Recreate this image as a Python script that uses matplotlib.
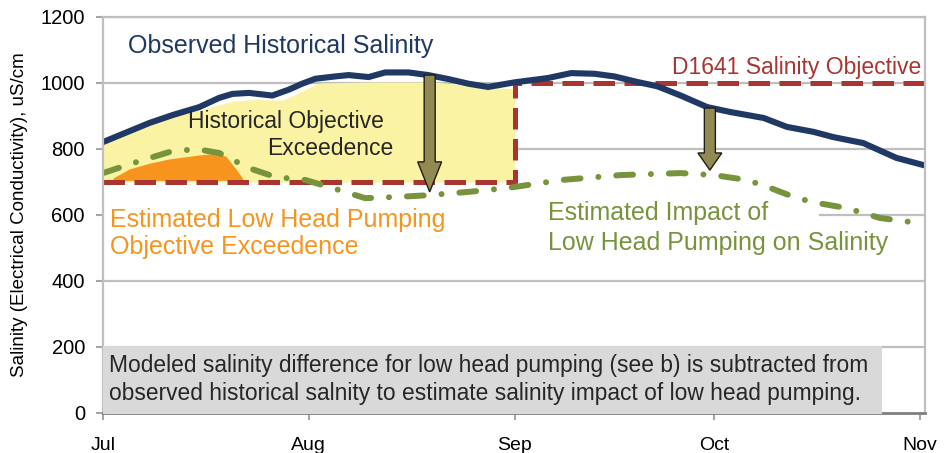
import matplotlib
matplotlib.use("Agg")
import matplotlib.pyplot as plt
from matplotlib.patches import Rectangle

plt.rcParams['font.family'] = ['Liberation Sans', 'DejaVu Sans']

# ---- data (x = days since Jul 1) ----
month_ticks = [0, 31, 62, 92, 123]
month_labels = ['Jul', 'Aug', 'Sep', 'Oct', 'Nov']
y_ticks = [0, 200, 400, 600, 800, 1000, 1200]

obs_day = [0, 3.5, 7, 10.5, 14.5, 17.5, 19.5, 22, 25.5, 28, 30, 32, 35, 37, 40, 42.5, 46, 49,
           52, 55, 58, 62, 67, 70.5, 74, 77, 80.5, 83.5, 87, 91, 94.5, 99.5, 103, 107, 110,
           114.5, 119.5, 123.8]
obs_val = [821, 850, 879, 903, 927, 955, 967, 970, 962, 980, 998, 1013, 1020, 1024, 1018, 1032,
           1032, 1024, 1012, 998, 988, 1002, 1015, 1030, 1028, 1020, 1003, 990, 962, 927, 912,
           894, 867, 852, 836, 818, 773, 750]

objective_day = [0, 62, 62, 123.8]
objective_val = [700, 700, 1000, 1000]

impact_day = [0, 4.5, 10, 14, 17.5, 22, 26, 30.5, 34.5, 39.5, 44.5, 49, 55, 61, 69, 78, 87, 92,
              97, 100.5, 104.5, 108, 112, 117, 123.8]
impact_val = [727, 757, 791, 800, 788, 742, 715, 706, 682, 651, 655, 660, 670, 682, 706, 721,
              727, 721, 706, 682, 651, 635, 621, 591, 573]

hist_exc_day = [0, 5, 10, 15, 19.5, 23, 27, 30, 32.5, 40, 50, 56, 60, 62]
hist_exc_top = [815, 855, 895, 920, 945, 950, 948, 975, 1000, 1003, 1003, 990, 985, 982]
hist_exc_bottom = 700

lhp_exc_day = [1.5, 4, 7, 10, 14.5, 17, 18.5, 20, 21]
lhp_exc_top = [712, 740, 757, 770, 782, 787, 778, 740, 712]
lhp_exc_bottom = 705

arrow1 = (49.2, 1024, 670)   # day, from, to
arrow2 = (91.4, 924, 736)

# ---- colours ----
NAVY = '#1F3864'
RED = '#A93530'
GREEN = '#77933C'
ORANGE = '#F7941D'
YELLOW = '#FAF3A3'
GRID = '#BFBFBF'
ARROW = '#938953'

fig = plt.figure(figsize=(9.45, 4.53), dpi=100)
ax = fig.add_axes([103/945, 40/453, 822/945, 396/453])
ax.set_xlim(0, 123.8)
ax.set_ylim(0, 1200)

# grid
for yv in y_ticks[1:]:
    if yv == 600:
        ax.axhline(yv, xmin=0.872, color=GRID, lw=1.6, zorder=0.5)
    else:
        ax.axhline(yv, color=GRID, lw=1.6, zorder=0.5)

# fills
ax.fill_between(hist_exc_day, hist_exc_bottom, hist_exc_top, color=YELLOW, lw=0, zorder=1)
ax.fill_between(lhp_exc_day, lhp_exc_bottom, lhp_exc_top, color=ORANGE, lw=0, zorder=1.2)

# lines
ax.plot(objective_day, objective_val, color=RED, lw=3.6, linestyle=(0, (4.3, 1.9)),
        dash_capstyle='butt', zorder=2)
ax.plot(impact_day, impact_val, color=GREEN, lw=4.3, linestyle=(0, (2.8, 3.0, 0.01, 3.0)),
        dash_capstyle='round', zorder=2.2)
ax.plot(obs_day, obs_val, color=NAVY, lw=4.4, solid_capstyle='butt', zorder=2.5)

# arrows
for d, y0, y1 in (arrow1, arrow2):
    hl = 91 if d < 60 else 52
    ax.arrow(d, y0, 0, y1 - y0, width=1.66, head_width=3.6, head_length=hl,
             length_includes_head=True, fc=ARROW, ec='#1E1E14', lw=1.0, zorder=4)

# grey note box
ax.add_patch(Rectangle((0, -4), 117.3, 207, facecolor='#D9D9D9', edgecolor='none',
                       zorder=3, clip_on=False))
ax.text(0.9, 145, 'Modeled salinity difference for low head pumping (see b) is subtracted from',
        fontsize=16.4, color='#262626', va='center', ha='left', zorder=5)
ax.text(0.9, 60, 'observed historical salnity to estimate salinity impact of low head pumping.',
        fontsize=16.4, color='#262626', va='center', ha='left', zorder=5)

# annotations
ax.text(3.8, 1112, 'Observed Historical Salinity', fontsize=18, color=NAVY,
        va='center', ha='left', zorder=5)
ax.text(123.3, 1048, 'D1641 Salinity Objective', fontsize=16.5, color=RED,
        va='center', ha='right', zorder=5)
ax.text(12.8, 882, 'Historical Objective', fontsize=16.5, color='#262626',
        va='center', ha='left', zorder=5)
ax.text(24.7, 803, 'Exceedence', fontsize=16.5, color='#262626',
        va='center', ha='left', zorder=5)
ax.text(1.05, 585, 'Estimated Low Head Pumping', fontsize=18, color=ORANGE,
        va='center', ha='left', zorder=5)
ax.text(1.05, 503, 'Objective Exceedence', fontsize=18, color=ORANGE,
        va='center', ha='left', zorder=5)
ax.text(67, 606, 'Estimated Impact of', fontsize=18, color=GREEN,
        va='center', ha='left', zorder=5)
ax.text(67, 515, 'Low Head Pumping on Salinity', fontsize=18, color=GREEN,
        va='center', ha='left', zorder=5)

# axes styling
ax.set_xticks(month_ticks)
ax.set_xticklabels(month_labels)
ax.set_yticks(y_ticks)
ax.tick_params(axis='x', length=5, width=1.5, color='#A6A6A6', labelsize=14, pad=12)
ax.tick_params(axis='y', length=5, width=1.5, color='#A6A6A6', labelsize=14.5, pad=8)
for s in ('left', 'top', 'right'):
    ax.spines[s].set_color('#BFBFBF')
    ax.spines[s].set_linewidth(1.6)
ax.spines['bottom'].set_color('#7F7F7F')
ax.spines['bottom'].set_linewidth(2)
ax.set_ylabel('Salinity (Electrical Conductivity), uS/cm', fontsize=13.5, labelpad=9)

fig.savefig('out.png', dpi=100)
